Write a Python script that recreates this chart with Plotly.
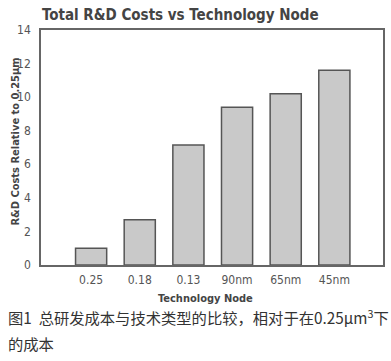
import plotly.graph_objects as go

nodes = ["0.25", "0.18", "0.13", "90nm", "65nm", "45nm"]
costs = [1.0, 2.7, 7.15, 9.4, 10.2, 11.6]
y_ticks = [0, 2, 4, 6, 8, 10, 12, 14]

FONT = "Liberation Sans Narrow, DejaVu Sans Condensed, Arial Narrow, sans-serif"
CJK = "Noto Sans CJK SC"

fig = go.Figure()
fig.add_trace(go.Bar(
    x=list(range(len(nodes))), y=costs, width=0.64,
    marker=dict(color="#c9c9c9", line=dict(color="#555555", width=1.5)),
    hoverinfo="skip",
))

fig.update_layout(
    width=391, height=361,
    margin=dict(l=41, r=8, t=30, b=96, autoexpand=False),
    paper_bgcolor="white", plot_bgcolor="white",
    showlegend=False,
    font=dict(family=FONT, color="#555555", size=12),
    annotations=[
        dict(text="<b>Total R&D Costs vs Technology Node</b>", xref="paper", yref="paper",
             x=-0.003, y=1.0, yshift=15, xanchor="left", yanchor="middle", showarrow=False,
             font=dict(family=FONT, size=15, color="#444444")),
        dict(text="<b>R&D Costs Relative to 0.25µm</b>", xref="paper", yref="paper",
             x=0, y=0.5, xshift=-26, yshift=6, textangle=-90, xanchor="center", yanchor="middle",
             showarrow=False, bgcolor="rgba(0,0,0,0)",
             font=dict(family=FONT, size=11, color="#444444")),
        dict(text="<b>Technology Node</b>", xref="paper", yref="paper",
             x=0.5, y=0, xshift=-7, yshift=-33, xanchor="center", yanchor="middle",
             showarrow=False, font=dict(family=FONT, size=11, color="#444444")),
        dict(text="图1  总研发成本与技术类型的比较，相对于在0.25µm<sup>3</sup>下",
             xref="paper", yref="paper", x=-0.103, y=0, yshift=-52, xanchor="left", yanchor="middle",
             showarrow=False, font=dict(family=CJK, size=15.3, color="#333333")),
        dict(text="的成本",
             xref="paper", yref="paper", x=-0.103, y=0, yshift=-78, xanchor="left", yanchor="middle",
             showarrow=False, font=dict(family=CJK, size=15.3, color="#333333")),
    ],
)
fig.update_xaxes(
    range=[-1.03, 6.0], tickvals=list(range(len(nodes))), ticktext=nodes,
    showline=True, linecolor="#666666", linewidth=1.5, mirror=True, ticks="",
    ticklabelstandoff=3, automargin=False,
    showgrid=False, tickfont=dict(size=12, color="#555555"),
)
fig.update_yaxes(
    range=[0, 14], tickvals=y_ticks, showline=True, linecolor="#666666", linewidth=1.5,
    mirror=True, ticks="", showgrid=False, zeroline=False, automargin=False,
    ticklabelstandoff=6,
    tickfont=dict(size=12, color="#555555"),
)

fig.write_html("out.html", config={"displayModeBar": False},
               post_script="document.body.style.margin='0';")
